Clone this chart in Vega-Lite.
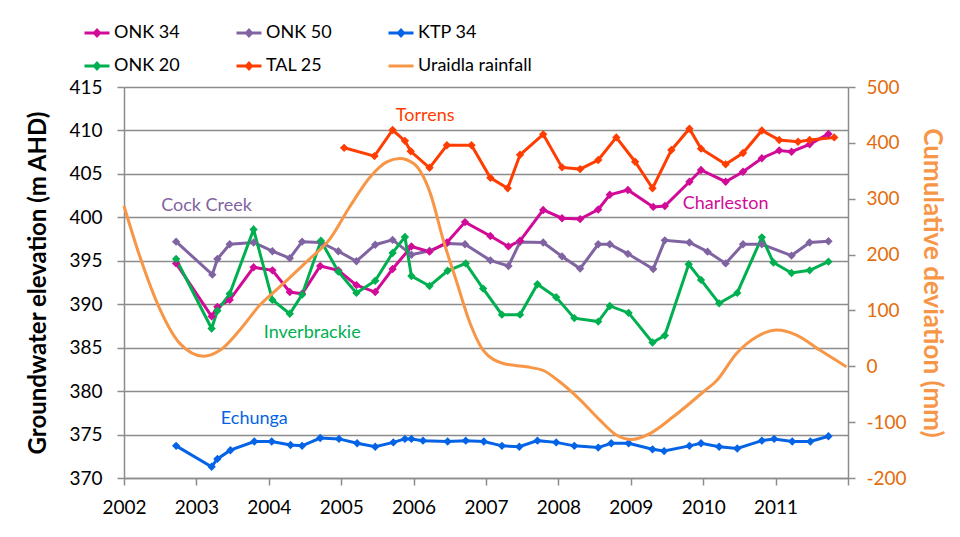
{
  "$schema": "https://vega.github.io/schema/vega-lite/v6.json",
  "width": 724,
  "height": 391,
  "autosize": "none",
  "padding": {"left": 124, "top": 87, "right": 112, "bottom": 59},
  "background": "white",
  "config": {"view": {"stroke": null}, "font": "Lato"},
  "datasets": {
    "wells": [
      {"series": "KTP 34", "year": 2002.72, "value": 373.7},
      {"series": "KTP 34", "year": 2003.21, "value": 371.3},
      {"series": "KTP 34", "year": 2003.29, "value": 372.2},
      {"series": "KTP 34", "year": 2003.47, "value": 373.2},
      {"series": "KTP 34", "year": 2003.80, "value": 374.2},
      {"series": "KTP 34", "year": 2004.04, "value": 374.2},
      {"series": "KTP 34", "year": 2004.30, "value": 373.8},
      {"series": "KTP 34", "year": 2004.46, "value": 373.7},
      {"series": "KTP 34", "year": 2004.71, "value": 374.6},
      {"series": "KTP 34", "year": 2004.97, "value": 374.5},
      {"series": "KTP 34", "year": 2005.22, "value": 374.0},
      {"series": "KTP 34", "year": 2005.47, "value": 373.6},
      {"series": "KTP 34", "year": 2005.72, "value": 374.1},
      {"series": "KTP 34", "year": 2005.88, "value": 374.5},
      {"series": "KTP 34", "year": 2005.97, "value": 374.5},
      {"series": "KTP 34", "year": 2006.13, "value": 374.3},
      {"series": "KTP 34", "year": 2006.47, "value": 374.2},
      {"series": "KTP 34", "year": 2006.72, "value": 374.3},
      {"series": "KTP 34", "year": 2006.97, "value": 374.2},
      {"series": "KTP 34", "year": 2007.22, "value": 373.7},
      {"series": "KTP 34", "year": 2007.46, "value": 373.6},
      {"series": "KTP 34", "year": 2007.71, "value": 374.3},
      {"series": "KTP 34", "year": 2007.97, "value": 374.1},
      {"series": "KTP 34", "year": 2008.22, "value": 373.7},
      {"series": "KTP 34", "year": 2008.55, "value": 373.5},
      {"series": "KTP 34", "year": 2008.73, "value": 374.0},
      {"series": "KTP 34", "year": 2008.97, "value": 374.0},
      {"series": "KTP 34", "year": 2009.30, "value": 373.3},
      {"series": "KTP 34", "year": 2009.46, "value": 373.1},
      {"series": "KTP 34", "year": 2009.81, "value": 373.7},
      {"series": "KTP 34", "year": 2009.97, "value": 374.0},
      {"series": "KTP 34", "year": 2010.22, "value": 373.6},
      {"series": "KTP 34", "year": 2010.47, "value": 373.4},
      {"series": "KTP 34", "year": 2010.81, "value": 374.3},
      {"series": "KTP 34", "year": 2010.98, "value": 374.5},
      {"series": "KTP 34", "year": 2011.23, "value": 374.2},
      {"series": "KTP 34", "year": 2011.48, "value": 374.2},
      {"series": "KTP 34", "year": 2011.73, "value": 374.8},

      {"series": "ONK 50", "year": 2002.72, "value": 397.2},
      {"series": "ONK 50", "year": 2003.22, "value": 393.4},
      {"series": "ONK 50", "year": 2003.29, "value": 395.2},
      {"series": "ONK 50", "year": 2003.46, "value": 396.9},
      {"series": "ONK 50", "year": 2003.79, "value": 397.1},
      {"series": "ONK 50", "year": 2004.05, "value": 396.1},
      {"series": "ONK 50", "year": 2004.29, "value": 395.3},
      {"series": "ONK 50", "year": 2004.46, "value": 397.2},
      {"series": "ONK 50", "year": 2004.72, "value": 397.1},
      {"series": "ONK 50", "year": 2004.96, "value": 396.1},
      {"series": "ONK 50", "year": 2005.21, "value": 394.95},
      {"series": "ONK 50", "year": 2005.47, "value": 396.85},
      {"series": "ONK 50", "year": 2005.71, "value": 397.4},
      {"series": "ONK 50", "year": 2005.97, "value": 395.7},
      {"series": "ONK 50", "year": 2006.22, "value": 396.15},
      {"series": "ONK 50", "year": 2006.46, "value": 397.0},
      {"series": "ONK 50", "year": 2006.71, "value": 396.9},
      {"series": "ONK 50", "year": 2007.06, "value": 395.05},
      {"series": "ONK 50", "year": 2007.31, "value": 394.4},
      {"series": "ONK 50", "year": 2007.47, "value": 397.15},
      {"series": "ONK 50", "year": 2007.79, "value": 397.1},
      {"series": "ONK 50", "year": 2008.05, "value": 395.5},
      {"series": "ONK 50", "year": 2008.30, "value": 394.1},
      {"series": "ONK 50", "year": 2008.55, "value": 396.9},
      {"series": "ONK 50", "year": 2008.71, "value": 396.9},
      {"series": "ONK 50", "year": 2008.96, "value": 395.8},
      {"series": "ONK 50", "year": 2009.31, "value": 394.05},
      {"series": "ONK 50", "year": 2009.47, "value": 397.35},
      {"series": "ONK 50", "year": 2009.81, "value": 397.1},
      {"series": "ONK 50", "year": 2010.06, "value": 396.05},
      {"series": "ONK 50", "year": 2010.31, "value": 394.7},
      {"series": "ONK 50", "year": 2010.55, "value": 396.9},
      {"series": "ONK 50", "year": 2010.81, "value": 396.9},
      {"series": "ONK 50", "year": 2011.22, "value": 395.6},
      {"series": "ONK 50", "year": 2011.47, "value": 397.1},
      {"series": "ONK 50", "year": 2011.73, "value": 397.25},

      {"series": "ONK 34", "year": 2002.72, "value": 394.7},
      {"series": "ONK 34", "year": 2003.21, "value": 388.6},
      {"series": "ONK 34", "year": 2003.29, "value": 389.7},
      {"series": "ONK 34", "year": 2003.46, "value": 390.5},
      {"series": "ONK 34", "year": 2003.79, "value": 394.25},
      {"series": "ONK 34", "year": 2004.05, "value": 393.9},
      {"series": "ONK 34", "year": 2004.29, "value": 391.4},
      {"series": "ONK 34", "year": 2004.46, "value": 391.2},
      {"series": "ONK 34", "year": 2004.71, "value": 394.4},
      {"series": "ONK 34", "year": 2004.96, "value": 393.9},
      {"series": "ONK 34", "year": 2005.21, "value": 392.2},
      {"series": "ONK 34", "year": 2005.47, "value": 391.4},
      {"series": "ONK 34", "year": 2005.71, "value": 394.05},
      {"series": "ONK 34", "year": 2005.97, "value": 396.65},
      {"series": "ONK 34", "year": 2006.22, "value": 396.05},
      {"series": "ONK 34", "year": 2006.46, "value": 397.1},
      {"series": "ONK 34", "year": 2006.71, "value": 399.45},
      {"series": "ONK 34", "year": 2007.06, "value": 397.85},
      {"series": "ONK 34", "year": 2007.31, "value": 396.65},
      {"series": "ONK 34", "year": 2007.47, "value": 397.3},
      {"series": "ONK 34", "year": 2007.79, "value": 400.85},
      {"series": "ONK 34", "year": 2008.05, "value": 399.9},
      {"series": "ONK 34", "year": 2008.30, "value": 399.8},
      {"series": "ONK 34", "year": 2008.55, "value": 400.9},
      {"series": "ONK 34", "year": 2008.71, "value": 402.6},
      {"series": "ONK 34", "year": 2008.96, "value": 403.15},
      {"series": "ONK 34", "year": 2009.31, "value": 401.2},
      {"series": "ONK 34", "year": 2009.47, "value": 401.3},
      {"series": "ONK 34", "year": 2009.81, "value": 404.1},
      {"series": "ONK 34", "year": 2009.97, "value": 405.45},
      {"series": "ONK 34", "year": 2010.31, "value": 404.1},
      {"series": "ONK 34", "year": 2010.55, "value": 405.25},
      {"series": "ONK 34", "year": 2010.81, "value": 406.8},
      {"series": "ONK 34", "year": 2011.05, "value": 407.7},
      {"series": "ONK 34", "year": 2011.22, "value": 407.55},
      {"series": "ONK 34", "year": 2011.47, "value": 408.4},
      {"series": "ONK 34", "year": 2011.73, "value": 409.6},

      {"series": "ONK 20", "year": 2002.72, "value": 395.2},
      {"series": "ONK 20", "year": 2003.21, "value": 387.2},
      {"series": "ONK 20", "year": 2003.29, "value": 389.25},
      {"series": "ONK 20", "year": 2003.46, "value": 391.2},
      {"series": "ONK 20", "year": 2003.79, "value": 398.6},
      {"series": "ONK 20", "year": 2004.05, "value": 390.5},
      {"series": "ONK 20", "year": 2004.29, "value": 388.9},
      {"series": "ONK 20", "year": 2004.46, "value": 391.1},
      {"series": "ONK 20", "year": 2004.72, "value": 397.3},
      {"series": "ONK 20", "year": 2004.96, "value": 393.75},
      {"series": "ONK 20", "year": 2005.21, "value": 391.3},
      {"series": "ONK 20", "year": 2005.47, "value": 392.7},
      {"series": "ONK 20", "year": 2005.71, "value": 395.9},
      {"series": "ONK 20", "year": 2005.88, "value": 397.75},
      {"series": "ONK 20", "year": 2005.97, "value": 393.25},
      {"series": "ONK 20", "year": 2006.22, "value": 392.1},
      {"series": "ONK 20", "year": 2006.47, "value": 393.85},
      {"series": "ONK 20", "year": 2006.72, "value": 394.7},
      {"series": "ONK 20", "year": 2006.96, "value": 391.8},
      {"series": "ONK 20", "year": 2007.22, "value": 388.8},
      {"series": "ONK 20", "year": 2007.47, "value": 388.8},
      {"series": "ONK 20", "year": 2007.71, "value": 392.3},
      {"series": "ONK 20", "year": 2007.97, "value": 390.8},
      {"series": "ONK 20", "year": 2008.22, "value": 388.4},
      {"series": "ONK 20", "year": 2008.55, "value": 388.0},
      {"series": "ONK 20", "year": 2008.71, "value": 389.8},
      {"series": "ONK 20", "year": 2008.97, "value": 389.0},
      {"series": "ONK 20", "year": 2009.30, "value": 385.6},
      {"series": "ONK 20", "year": 2009.47, "value": 386.4},
      {"series": "ONK 20", "year": 2009.80, "value": 394.6},
      {"series": "ONK 20", "year": 2009.97, "value": 392.8},
      {"series": "ONK 20", "year": 2010.22, "value": 390.1},
      {"series": "ONK 20", "year": 2010.47, "value": 391.3},
      {"series": "ONK 20", "year": 2010.81, "value": 397.7},
      {"series": "ONK 20", "year": 2010.97, "value": 394.8},
      {"series": "ONK 20", "year": 2011.22, "value": 393.6},
      {"series": "ONK 20", "year": 2011.47, "value": 393.9},
      {"series": "ONK 20", "year": 2011.73, "value": 394.9},

      {"series": "TAL 25", "year": 2005.04, "value": 408.0},
      {"series": "TAL 25", "year": 2005.46, "value": 407.05},
      {"series": "TAL 25", "year": 2005.71, "value": 410.05},
      {"series": "TAL 25", "year": 2005.88, "value": 408.8},
      {"series": "TAL 25", "year": 2005.96, "value": 407.6},
      {"series": "TAL 25", "year": 2006.22, "value": 405.7},
      {"series": "TAL 25", "year": 2006.46, "value": 408.3},
      {"series": "TAL 25", "year": 2006.80, "value": 408.3},
      {"series": "TAL 25", "year": 2007.06, "value": 404.55},
      {"series": "TAL 25", "year": 2007.30, "value": 403.35},
      {"series": "TAL 25", "year": 2007.47, "value": 407.2},
      {"series": "TAL 25", "year": 2007.79, "value": 409.55},
      {"series": "TAL 25", "year": 2008.05, "value": 405.75},
      {"series": "TAL 25", "year": 2008.30, "value": 405.55},
      {"series": "TAL 25", "year": 2008.55, "value": 406.6},
      {"series": "TAL 25", "year": 2008.80, "value": 409.2},
      {"series": "TAL 25", "year": 2009.06, "value": 406.4},
      {"series": "TAL 25", "year": 2009.30, "value": 403.35},
      {"series": "TAL 25", "year": 2009.56, "value": 407.75},
      {"series": "TAL 25", "year": 2009.81, "value": 410.2},
      {"series": "TAL 25", "year": 2009.97, "value": 407.9},
      {"series": "TAL 25", "year": 2010.31, "value": 406.1},
      {"series": "TAL 25", "year": 2010.55, "value": 407.4},
      {"series": "TAL 25", "year": 2010.81, "value": 410.0},
      {"series": "TAL 25", "year": 2011.05, "value": 408.9},
      {"series": "TAL 25", "year": 2011.31, "value": 408.7},
      {"series": "TAL 25", "year": 2011.47, "value": 408.9},
      {"series": "TAL 25", "year": 2011.81, "value": 409.2}
    ],
    "rain": [
      {"series": "Uraidla rainfall", "year": 2002.0, "value": 287},
      {"series": "Uraidla rainfall", "year": 2002.22, "value": 196},
      {"series": "Uraidla rainfall", "year": 2002.5, "value": 101},
      {"series": "Uraidla rainfall", "year": 2002.77, "value": 41},
      {"series": "Uraidla rainfall", "year": 2003.1, "value": 18},
      {"series": "Uraidla rainfall", "year": 2003.33, "value": 29},
      {"series": "Uraidla rainfall", "year": 2003.6, "value": 65},
      {"series": "Uraidla rainfall", "year": 2003.88, "value": 110},
      {"series": "Uraidla rainfall", "year": 2004.15, "value": 142},
      {"series": "Uraidla rainfall", "year": 2004.52, "value": 187},
      {"series": "Uraidla rainfall", "year": 2004.85, "value": 229},
      {"series": "Uraidla rainfall", "year": 2005.12, "value": 286},
      {"series": "Uraidla rainfall", "year": 2005.4, "value": 339},
      {"series": "Uraidla rainfall", "year": 2005.63, "value": 366},
      {"series": "Uraidla rainfall", "year": 2005.81, "value": 372},
      {"series": "Uraidla rainfall", "year": 2006.0, "value": 363},
      {"series": "Uraidla rainfall", "year": 2006.23, "value": 310},
      {"series": "Uraidla rainfall", "year": 2006.41, "value": 226},
      {"series": "Uraidla rainfall", "year": 2006.6, "value": 149},
      {"series": "Uraidla rainfall", "year": 2006.78, "value": 77},
      {"series": "Uraidla rainfall", "year": 2006.96, "value": 29},
      {"series": "Uraidla rainfall", "year": 2007.24, "value": 5},
      {"series": "Uraidla rainfall", "year": 2007.56, "value": -1},
      {"series": "Uraidla rainfall", "year": 2007.8, "value": -8},
      {"series": "Uraidla rainfall", "year": 2008.0, "value": -26},
      {"series": "Uraidla rainfall", "year": 2008.3, "value": -60},
      {"series": "Uraidla rainfall", "year": 2008.57, "value": -96},
      {"series": "Uraidla rainfall", "year": 2008.8, "value": -123},
      {"series": "Uraidla rainfall", "year": 2009.01, "value": -131},
      {"series": "Uraidla rainfall", "year": 2009.27, "value": -120},
      {"series": "Uraidla rainfall", "year": 2009.59, "value": -90},
      {"series": "Uraidla rainfall", "year": 2010.0, "value": -46},
      {"series": "Uraidla rainfall", "year": 2010.19, "value": -25},
      {"series": "Uraidla rainfall", "year": 2010.46, "value": 23},
      {"series": "Uraidla rainfall", "year": 2010.74, "value": 53},
      {"series": "Uraidla rainfall", "year": 2011.02, "value": 65},
      {"series": "Uraidla rainfall", "year": 2011.29, "value": 56},
      {"series": "Uraidla rainfall", "year": 2011.61, "value": 29},
      {"series": "Uraidla rainfall", "year": 2011.98, "value": -1}
    ],
    "labels": [
      {"series": "TAL 25", "label": "Torrens", "year": 2006.16, "value": 411.7},
      {"series": "ONK 50", "label": "Cock Creek", "year": 2003.14, "value": 401.3},
      {"series": "ONK 34", "label": "Charleston", "year": 2010.31, "value": 401.5},
      {"series": "ONK 20", "label": "Inverbrackie", "year": 2004.6, "value": 386.7},
      {"series": "KTP 34", "label": "Echunga", "year": 2003.8, "value": 376.75}
    ]
  },
  "layer": [
    {
      "layer": [
        {
          "data": {"name": "wells"},
          "mark": {"type": "line", "strokeWidth": 3},
          "encoding": {
            "x": {"field": "year", "type": "quantitative", "scale": {"domain": [2002, 2012], "nice": false, "zero": false},
              "axis": {"values": [2002, 2003, 2004, 2005, 2006, 2007, 2008, 2009, 2010, 2011, 2012], "format": "d",
                "labelExpr": "datum.value == 2012 ? '' : datum.label", "title": null, "grid": false, "labelFlush": false,
                "labelOverlap": false,
                "domainColor": "#8c8c8c", "domainWidth": 1.5, "tickColor": "#8c8c8c", "tickWidth": 1.5, "tickSize": 7,
                "labelFontSize": 19, "labelColor": "#000000", "labelPadding": 13, "labelFont": "Lato"}},
            "y": {"field": "value", "type": "quantitative", "scale": {"domain": [370, 415], "nice": false, "zero": false},
              "axis": {"values": [370, 375, 380, 385, 390, 395, 400, 405, 410, 415], "title": "Groundwater elevation (m AHD)",
                "grid": true, "gridColor": "#8c8c8c", "gridWidth": 1.5, "domainColor": "#8c8c8c", "domainWidth": 1.5,
                "tickColor": "#8c8c8c", "tickWidth": 1.5, "tickSize": 7, "labelFontSize": 19, "labelColor": "#000000",
                "labelPadding": 15, "labelFont": "Lato", "titleFont": "Lato", "titleFontSize": 24, "titleFontWeight": "bold",
                "titleColor": "#000000", "titlePadding": 18}},
            "color": {"field": "series", "type": "nominal",
              "scale": {"domain": ["ONK 34", "ONK 50", "KTP 34", "ONK 20", "TAL 25", "Uraidla rainfall"],
                "range": ["#D10A97", "#8064A2", "#0563E6", "#00B050", "#FF3D00", "#F79646"]},
              "legend": {"orient": "none", "legendX": -41, "legendY": -68, "direction": "horizontal", "columns": 3,
                "title": null, "padding": 0, "labelFont": "Lato", "labelFontSize": 18, "labelColor": "#000000",
                "labelOffset": 3, "columnPadding": 50, "rowPadding": 10, "symbolSize": 625, "symbolStrokeWidth": 3,
                "symbolType": "M-1,0H1",
                "encode": {"symbols": {"update": {
                  "fill": {"scale": "color", "field": "value"},
                  "stroke": {"scale": "color", "field": "value"},
                  "strokeWidth": {"value": 3},
                  "opacity": {"value": 1},
                  "shape": {"signal": "datum.value === 'Uraidla rainfall' ? 'M-1,0H1' : 'M-1,0H1M-0.2,0L0,-0.22L0.2,0L0,0.22Z'"}
                }}}}}
          }
        },
        {
          "data": {"name": "wells"},
          "mark": {"type": "point", "shape": "diamond", "filled": true, "size": 70, "opacity": 1},
          "encoding": {
            "x": {"field": "year", "type": "quantitative"},
            "y": {"field": "value", "type": "quantitative"},
            "color": {"field": "series", "type": "nominal"}
          }
        },
        {
          "data": {"name": "labels"},
          "mark": {"type": "text", "fontSize": 18, "font": "Lato", "align": "center", "baseline": "middle"},
          "encoding": {
            "x": {"field": "year", "type": "quantitative"},
            "y": {"field": "value", "type": "quantitative"},
            "text": {"field": "label"},
            "color": {"field": "series", "type": "nominal"}
          }
        }
      ]
    },
    {
      "data": {"name": "rain"},
      "mark": {"type": "line", "strokeWidth": 3, "interpolate": "monotone"},
      "encoding": {
        "x": {"field": "year", "type": "quantitative"},
        "y": {"field": "value", "type": "quantitative", "scale": {"domain": [-200, 500], "nice": false, "zero": false},
          "axis": {"orient": "right", "values": [-200, -100, 0, 100, 200, 300, 400, 500], "title": "Cumulative deviation (mm)",
            "labelExpr": "'' + datum.value",
            "grid": false, "domainColor": "#8c8c8c", "domainWidth": 1.5, "tickColor": "#8c8c8c", "tickWidth": 1.5, "tickSize": 7,
            "labelFontSize": 19, "labelColor": "#E46C0A", "labelPadding": 11, "labelFont": "Lato",
            "titleFont": "Lato", "titleFontSize": 26, "titleFontWeight": "bold", "titleColor": "#F79646", "titlePadding": 12}},
        "color": {"field": "series", "type": "nominal"}
      }
    }
  ],
  "resolve": {"scale": {"y": "independent"}}
}
